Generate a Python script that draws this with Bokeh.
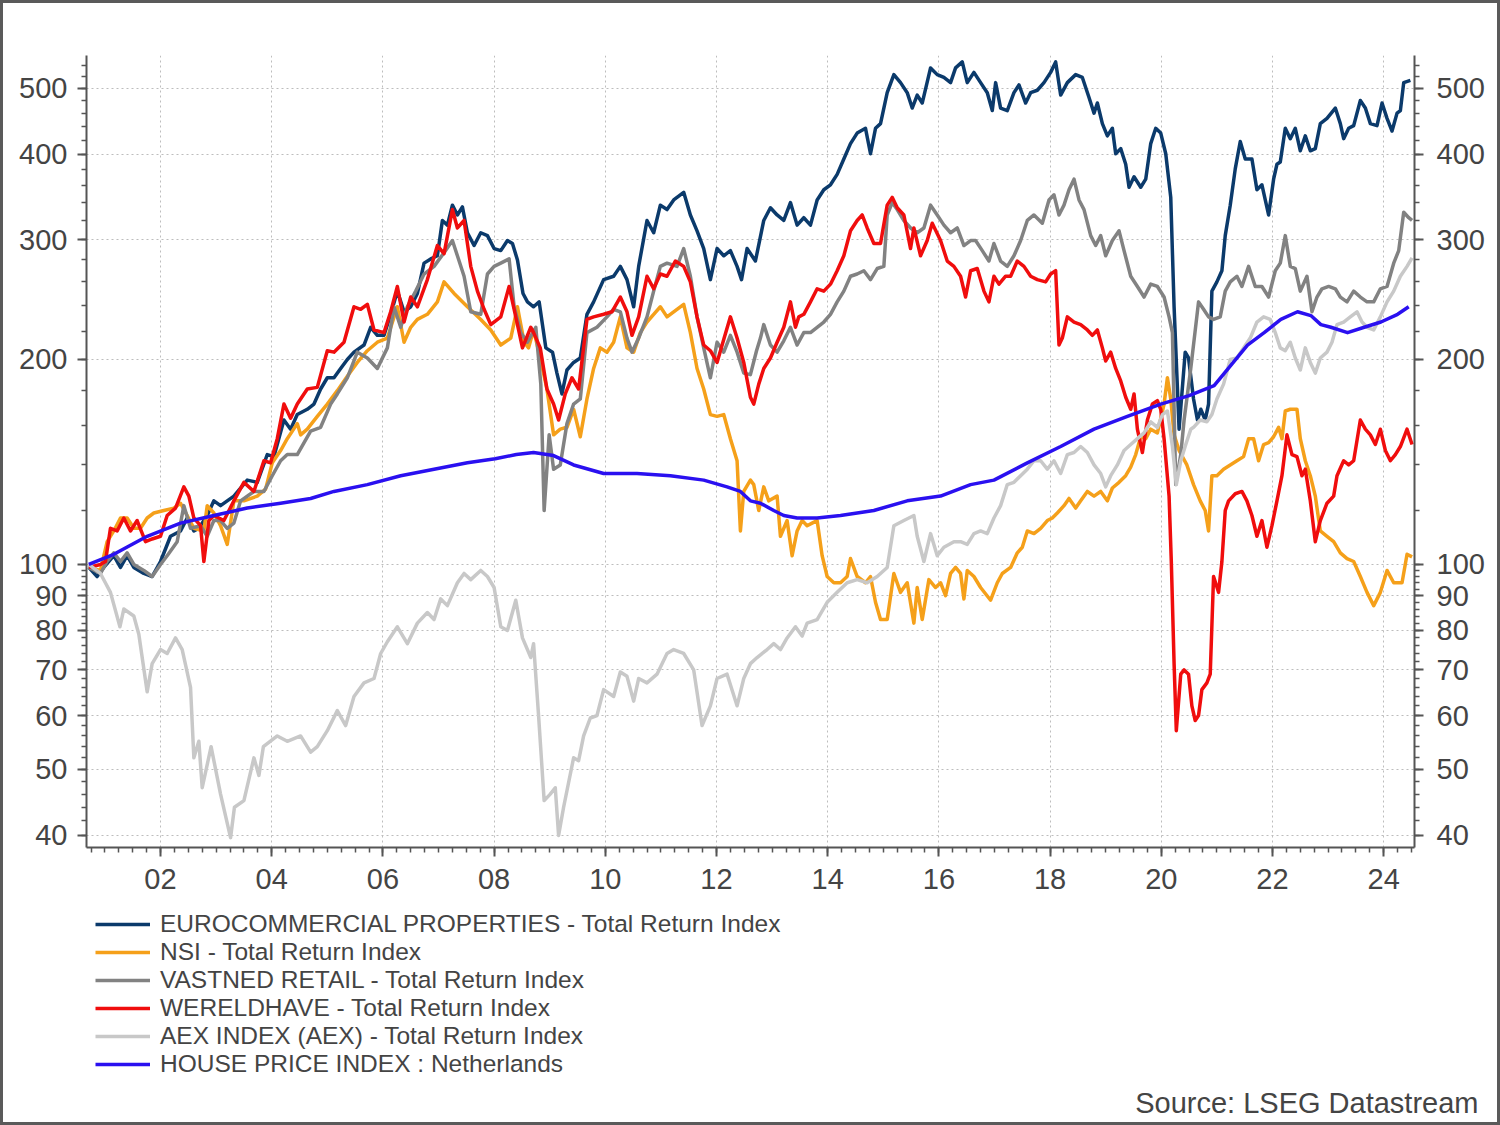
from bokeh.plotting import figure
from bokeh.layouts import column
from bokeh.models import Range1d, LogAxis, FixedTicker, Legend, LegendItem, Title, NumeralTickFormatter
from bokeh.embed import file_html
from bokeh.resources import INLINE

EURO = [(2000.71, 99), (2000.86, 96), (2000.98, 99), (2001.16, 103), (2001.28, 99), (2001.40, 103), (2001.52, 99), (2001.70, 97), (2001.85, 96), (2002.00, 101), (2002.18, 110), (2002.36, 112), (2002.48, 117), (2002.60, 112), (2002.69, 113), (2002.84, 118), (2002.96, 124), (2003.08, 122), (2003.20, 124), (2003.32, 126), (2003.56, 133), (2003.74, 132), (2003.92, 145), (2004.04, 144), (2004.22, 163), (2004.34, 158), (2004.46, 166), (2004.64, 169), (2004.76, 172), (2004.88, 181), (2005.00, 188), (2005.12, 188), (2005.24, 194), (2005.36, 200), (2005.48, 205), (2005.66, 210), (2005.78, 223), (2005.90, 217), (2006.02, 217), (2006.14, 233), (2006.26, 252), (2006.38, 235), (2006.50, 239), (2006.62, 250), (2006.74, 277), (2006.86, 281), (2006.98, 284), (2007.07, 320), (2007.16, 315), (2007.25, 337), (2007.34, 326), (2007.43, 335), (2007.52, 307), (2007.64, 294), (2007.76, 307), (2007.88, 304), (2008.00, 291), (2008.12, 289), (2008.24, 299), (2008.33, 296), (2008.42, 280), (2008.52, 250), (2008.60, 243), (2008.71, 239), (2008.81, 243), (2008.93, 208), (2009.05, 205), (2009.13, 191), (2009.22, 178), (2009.31, 193), (2009.43, 198), (2009.55, 201), (2009.67, 233), (2009.79, 243), (2009.97, 262), (2010.15, 265), (2010.27, 274), (2010.39, 262), (2010.51, 239), (2010.60, 274), (2010.75, 320), (2010.87, 307), (2010.99, 337), (2011.11, 332), (2011.23, 343), (2011.41, 352), (2011.53, 326), (2011.65, 309), (2011.77, 291), (2011.89, 262), (2012.01, 291), (2012.13, 284), (2012.25, 289), (2012.37, 274), (2012.45, 262), (2012.55, 291), (2012.70, 279), (2012.85, 320), (2012.97, 334), (2013.09, 326), (2013.21, 320), (2013.33, 340), (2013.45, 315), (2013.57, 323), (2013.69, 315), (2013.81, 343), (2013.93, 355), (2014.05, 361), (2014.17, 374), (2014.29, 394), (2014.41, 415), (2014.53, 430), (2014.68, 437), (2014.77, 401), (2014.86, 437), (2014.95, 444), (2015.07, 493), (2015.19, 524), (2015.31, 510), (2015.43, 493), (2015.52, 468), (2015.61, 489), (2015.70, 476), (2015.85, 536), (2015.97, 524), (2016.09, 519), (2016.21, 510), (2016.30, 536), (2016.42, 547), (2016.51, 510), (2016.63, 528), (2016.75, 510), (2016.87, 493), (2016.96, 464), (2017.02, 510), (2017.11, 468), (2017.23, 464), (2017.35, 493), (2017.44, 506), (2017.56, 476), (2017.65, 493), (2017.77, 497), (2017.89, 510), (2018.01, 528), (2018.10, 547), (2018.19, 489), (2018.31, 510), (2018.46, 524), (2018.58, 519), (2018.70, 485), (2018.79, 460), (2018.85, 476), (2018.94, 444), (2019.03, 426), (2019.12, 437), (2019.18, 401), (2019.27, 408), (2019.36, 387), (2019.42, 358), (2019.51, 371), (2019.63, 358), (2019.72, 368), (2019.81, 415), (2019.90, 437), (2019.99, 430), (2020.08, 401), (2020.17, 346), (2020.23, 239), (2020.32, 158), (2020.43, 205), (2020.49, 201), (2020.58, 175), (2020.65, 163), (2020.71, 169), (2020.79, 163), (2020.85, 172), (2020.91, 252), (2021.00, 260), (2021.09, 270), (2021.15, 304), (2021.24, 337), (2021.33, 381), (2021.42, 418), (2021.51, 394), (2021.63, 394), (2021.72, 355), (2021.81, 361), (2021.87, 343), (2021.93, 326), (2022.02, 368), (2022.08, 387), (2022.14, 390), (2022.23, 437), (2022.32, 422), (2022.41, 437), (2022.50, 405), (2022.59, 426), (2022.68, 405), (2022.77, 408), (2022.86, 444), (2022.98, 452), (2023.13, 468), (2023.22, 444), (2023.28, 422), (2023.37, 437), (2023.46, 441), (2023.58, 480), (2023.67, 468), (2023.76, 444), (2023.88, 441), (2023.97, 476), (2024.06, 452), (2024.15, 433), (2024.24, 460), (2024.30, 464), (2024.36, 510), (2024.48, 514)]

NSI = [(2000.71, 99), (2000.92, 98), (2001.04, 108), (2001.16, 112), (2001.28, 117), (2001.40, 117), (2001.52, 113), (2001.64, 113), (2001.76, 117), (2001.88, 119), (2002.06, 120), (2002.24, 121), (2002.36, 123), (2002.48, 118), (2002.60, 113), (2002.78, 112), (2002.84, 122), (2002.96, 119), (2003.08, 114), (2003.20, 107), (2003.32, 124), (2003.50, 124), (2003.74, 126), (2003.89, 129), (2004.01, 141), (2004.16, 147), (2004.28, 153), (2004.46, 161), (2004.52, 155), (2004.64, 158), (2004.82, 165), (2005.00, 172), (2005.18, 180), (2005.36, 189), (2005.54, 198), (2005.72, 206), (2005.90, 212), (2006.08, 215), (2006.26, 239), (2006.38, 212), (2006.50, 223), (2006.62, 229), (2006.80, 233), (2006.98, 243), (2007.10, 260), (2007.28, 250), (2007.52, 239), (2007.76, 229), (2007.94, 221), (2008.12, 210), (2008.30, 215), (2008.42, 239), (2008.54, 212), (2008.62, 208), (2008.71, 221), (2008.83, 201), (2008.95, 181), (2009.07, 155), (2009.19, 158), (2009.31, 159), (2009.43, 169), (2009.55, 154), (2009.67, 175), (2009.79, 194), (2009.91, 208), (2010.03, 205), (2010.15, 212), (2010.27, 231), (2010.39, 208), (2010.51, 205), (2010.63, 219), (2010.75, 227), (2010.87, 233), (2010.99, 239), (2011.11, 231), (2011.23, 235), (2011.41, 241), (2011.53, 219), (2011.65, 194), (2011.77, 181), (2011.89, 166), (2012.01, 165), (2012.13, 166), (2012.25, 153), (2012.37, 142), (2012.43, 112), (2012.49, 128), (2012.61, 133), (2012.67, 131), (2012.76, 120), (2012.85, 130), (2012.94, 124), (2013.09, 126), (2013.15, 110), (2013.27, 116), (2013.36, 103), (2013.45, 112), (2013.54, 116), (2013.63, 114), (2013.72, 115), (2013.81, 116), (2013.90, 103), (2013.99, 96), (2014.11, 94), (2014.23, 94), (2014.35, 96), (2014.41, 102), (2014.53, 96), (2014.68, 94), (2014.77, 96), (2014.86, 88), (2014.95, 83), (2015.07, 83), (2015.19, 97), (2015.31, 91), (2015.43, 94), (2015.55, 82), (2015.61, 92.5), (2015.70, 83), (2015.82, 95), (2015.94, 92.5), (2016.03, 94), (2016.12, 90), (2016.21, 97), (2016.30, 99), (2016.39, 97), (2016.45, 89), (2016.51, 98), (2016.63, 96), (2016.75, 92.5), (2016.93, 88.6), (2017.05, 94), (2017.14, 97), (2017.29, 99), (2017.41, 104), (2017.50, 106), (2017.59, 112), (2017.71, 111), (2017.83, 113), (2017.95, 116), (2018.04, 117), (2018.13, 119), (2018.25, 122), (2018.34, 125), (2018.46, 121), (2018.55, 124), (2018.67, 128), (2018.79, 126), (2018.91, 128), (2019.03, 124), (2019.12, 129.5), (2019.24, 132), (2019.36, 135), (2019.45, 139), (2019.54, 145), (2019.63, 154), (2019.72, 153), (2019.81, 158), (2019.93, 156), (2020.05, 172), (2020.11, 188), (2020.17, 175), (2020.23, 155), (2020.32, 147), (2020.46, 140), (2020.58, 131), (2020.70, 124), (2020.79, 120), (2020.85, 112), (2020.91, 135), (2021.00, 135), (2021.12, 138), (2021.24, 140), (2021.36, 142), (2021.48, 144), (2021.57, 153), (2021.66, 153), (2021.75, 142), (2021.84, 150), (2021.93, 151), (2022.02, 154), (2022.11, 159), (2022.17, 153), (2022.23, 168), (2022.32, 169), (2022.44, 169), (2022.50, 153), (2022.59, 142), (2022.68, 135), (2022.77, 126), (2022.86, 112), (2022.98, 110), (2023.10, 108), (2023.22, 104), (2023.34, 102), (2023.46, 101), (2023.58, 96), (2023.70, 91), (2023.82, 87), (2023.94, 91), (2024.06, 98), (2024.18, 94), (2024.33, 94), (2024.42, 103.5), (2024.51, 102.6)]

VASTNED = [(2000.71, 99), (2000.92, 97), (2001.04, 101), (2001.16, 104), (2001.28, 101), (2001.40, 104), (2001.52, 100), (2001.70, 98), (2001.85, 96), (2002.00, 100), (2002.12, 103), (2002.30, 108), (2002.42, 122), (2002.54, 113), (2002.72, 114), (2002.84, 110), (2002.96, 116), (2003.08, 116), (2003.20, 113), (2003.32, 115), (2003.44, 124), (2003.68, 128), (2003.86, 128), (2004.01, 135), (2004.16, 142), (2004.28, 145), (2004.46, 145), (2004.70, 157), (2004.88, 159), (2005.06, 172), (2005.18, 178), (2005.36, 188), (2005.54, 205), (2005.72, 201), (2005.90, 194), (2006.08, 208), (2006.20, 239), (2006.32, 223), (2006.44, 239), (2006.59, 252), (2006.74, 267), (2006.92, 274), (2007.10, 287), (2007.25, 299), (2007.34, 284), (2007.46, 265), (2007.58, 235), (2007.76, 233), (2007.88, 267), (2008.00, 274), (2008.12, 277), (2008.27, 281), (2008.36, 239), (2008.48, 219), (2008.60, 212), (2008.75, 223), (2008.84, 184), (2008.90, 120), (2008.99, 155), (2009.07, 138), (2009.19, 140), (2009.31, 161), (2009.43, 172), (2009.55, 175), (2009.67, 219), (2009.85, 223), (2010.03, 231), (2010.15, 237), (2010.27, 235), (2010.39, 215), (2010.48, 205), (2010.60, 215), (2010.75, 231), (2010.87, 252), (2010.99, 274), (2011.11, 277), (2011.29, 274), (2011.41, 291), (2011.53, 265), (2011.65, 231), (2011.77, 208), (2011.89, 188), (2012.01, 212), (2012.13, 205), (2012.25, 217), (2012.37, 205), (2012.49, 191), (2012.61, 190), (2012.72, 206), (2012.79, 215), (2012.85, 225), (2012.97, 210), (2013.09, 205), (2013.21, 213), (2013.33, 223), (2013.45, 210), (2013.57, 219), (2013.69, 219), (2013.81, 223), (2013.93, 227), (2014.05, 233), (2014.17, 243), (2014.29, 252), (2014.41, 265), (2014.53, 267), (2014.65, 270), (2014.77, 262), (2014.89, 272), (2015.01, 274), (2015.07, 326), (2015.16, 340), (2015.25, 332), (2015.37, 320), (2015.49, 312), (2015.61, 307), (2015.73, 312), (2015.85, 337), (2015.97, 326), (2016.09, 315), (2016.21, 307), (2016.33, 312), (2016.45, 294), (2016.57, 299), (2016.66, 299), (2016.78, 289), (2016.90, 279), (2016.99, 296), (2017.11, 279), (2017.23, 274), (2017.35, 284), (2017.47, 299), (2017.59, 320), (2017.71, 326), (2017.86, 317), (2017.98, 343), (2018.07, 349), (2018.16, 326), (2018.25, 337), (2018.34, 355), (2018.43, 368), (2018.52, 343), (2018.61, 332), (2018.73, 304), (2018.82, 294), (2018.91, 304), (2019.00, 284), (2019.12, 299), (2019.24, 309), (2019.33, 289), (2019.45, 265), (2019.57, 256), (2019.69, 247), (2019.81, 258), (2019.93, 256), (2020.05, 247), (2020.14, 231), (2020.20, 219), (2020.26, 131), (2020.35, 145), (2020.41, 163), (2020.53, 194), (2020.67, 243), (2020.76, 237), (2020.85, 231), (2020.94, 229), (2021.06, 231), (2021.15, 252), (2021.24, 260), (2021.36, 265), (2021.45, 256), (2021.57, 274), (2021.69, 256), (2021.81, 256), (2021.93, 247), (2022.05, 270), (2022.14, 277), (2022.23, 304), (2022.32, 274), (2022.41, 272), (2022.50, 252), (2022.62, 265), (2022.71, 235), (2022.80, 247), (2022.89, 254), (2023.01, 256), (2023.13, 254), (2023.22, 247), (2023.34, 243), (2023.46, 252), (2023.58, 247), (2023.70, 243), (2023.82, 243), (2023.94, 254), (2024.06, 256), (2024.18, 277), (2024.27, 289), (2024.36, 329), (2024.45, 323), (2024.51, 320)]

WERELDHAVE = [(2000.71, 99), (2000.92, 100), (2001.01, 101), (2001.10, 113), (2001.22, 112), (2001.34, 117), (2001.46, 112), (2001.58, 116), (2001.73, 108), (2001.85, 109), (2002.00, 110), (2002.12, 118), (2002.27, 121), (2002.42, 130), (2002.51, 126), (2002.60, 117), (2002.72, 114), (2002.78, 101), (2002.87, 116), (2002.96, 118), (2003.14, 116), (2003.32, 124), (2003.50, 132), (2003.68, 128), (2003.86, 142), (2003.98, 141), (2004.10, 153), (2004.22, 172), (2004.34, 164), (2004.46, 172), (2004.64, 181), (2004.82, 182), (2005.00, 206), (2005.12, 205), (2005.30, 212), (2005.48, 239), (2005.60, 237), (2005.72, 241), (2005.84, 221), (2006.02, 219), (2006.14, 235), (2006.26, 256), (2006.38, 227), (2006.50, 247), (2006.62, 239), (2006.80, 262), (2006.98, 294), (2007.10, 286), (2007.25, 332), (2007.34, 312), (2007.46, 320), (2007.58, 274), (2007.70, 252), (2007.82, 237), (2007.94, 225), (2008.12, 231), (2008.27, 256), (2008.39, 231), (2008.51, 208), (2008.66, 223), (2008.71, 219), (2008.83, 208), (2008.95, 181), (2009.07, 172), (2009.16, 163), (2009.28, 178), (2009.40, 188), (2009.52, 181), (2009.67, 229), (2009.79, 231), (2009.97, 233), (2010.12, 235), (2010.27, 247), (2010.39, 235), (2010.48, 217), (2010.60, 231), (2010.75, 265), (2010.87, 254), (2010.99, 267), (2011.11, 265), (2011.26, 279), (2011.41, 274), (2011.53, 260), (2011.65, 231), (2011.77, 210), (2011.89, 206), (2012.01, 198), (2012.13, 214), (2012.25, 231), (2012.37, 215), (2012.49, 198), (2012.61, 176), (2012.67, 172), (2012.76, 184), (2012.85, 194), (2012.97, 201), (2013.09, 212), (2013.21, 223), (2013.33, 243), (2013.42, 223), (2013.48, 231), (2013.57, 233), (2013.69, 243), (2013.81, 254), (2013.93, 252), (2014.05, 258), (2014.17, 270), (2014.29, 284), (2014.41, 309), (2014.53, 320), (2014.62, 326), (2014.71, 312), (2014.83, 296), (2014.95, 296), (2015.07, 337), (2015.16, 346), (2015.25, 334), (2015.37, 326), (2015.49, 291), (2015.55, 312), (2015.67, 284), (2015.79, 299), (2015.88, 317), (2016.03, 299), (2016.15, 279), (2016.27, 274), (2016.39, 265), (2016.48, 247), (2016.57, 270), (2016.69, 272), (2016.81, 252), (2016.90, 243), (2016.99, 265), (2017.08, 258), (2017.20, 265), (2017.29, 265), (2017.41, 279), (2017.53, 274), (2017.65, 265), (2017.77, 262), (2017.92, 260), (2018.01, 267), (2018.10, 270), (2018.16, 210), (2018.22, 215), (2018.31, 231), (2018.43, 227), (2018.55, 225), (2018.67, 221), (2018.76, 217), (2018.85, 221), (2018.94, 208), (2019.00, 199), (2019.09, 205), (2019.18, 194), (2019.27, 186), (2019.36, 176), (2019.45, 169), (2019.51, 178), (2019.57, 158), (2019.66, 146), (2019.75, 163), (2019.84, 172), (2019.93, 174), (2019.99, 169), (2020.05, 153), (2020.14, 126), (2020.18, 101), (2020.23, 71.5), (2020.27, 57), (2020.35, 69), (2020.41, 70), (2020.49, 69), (2020.55, 62), (2020.61, 59), (2020.67, 60), (2020.73, 65.5), (2020.82, 67), (2020.88, 69), (2020.94, 96), (2021.03, 91), (2021.09, 101), (2021.15, 120), (2021.21, 124), (2021.33, 127), (2021.45, 128), (2021.54, 124), (2021.63, 118), (2021.72, 110), (2021.81, 116), (2021.90, 106), (2021.99, 114), (2022.08, 124), (2022.17, 135), (2022.26, 155), (2022.35, 145), (2022.44, 144), (2022.53, 135), (2022.59, 138), (2022.68, 124), (2022.77, 108), (2022.86, 116), (2022.98, 123), (2023.10, 126), (2023.16, 135), (2023.28, 142), (2023.37, 140), (2023.46, 142), (2023.58, 163), (2023.67, 158), (2023.76, 155), (2023.85, 150), (2023.94, 158), (2024.03, 147), (2024.12, 142), (2024.21, 145), (2024.30, 149), (2024.42, 158), (2024.51, 150)]

AEX = [(2000.71, 100), (2000.92, 97), (2001.10, 91), (2001.27, 81), (2001.34, 86), (2001.52, 84), (2001.61, 79), (2001.76, 65), (2001.85, 71.5), (2002.00, 75), (2002.12, 74), (2002.27, 78), (2002.39, 75), (2002.54, 66), (2002.60, 52), (2002.69, 55), (2002.75, 47), (2002.91, 54), (2003.08, 46), (2003.26, 39.7), (2003.33, 44), (2003.50, 45), (2003.68, 52), (2003.77, 49), (2003.85, 54), (2004.10, 56), (2004.28, 55), (2004.52, 56), (2004.70, 53), (2004.82, 54), (2005.00, 57), (2005.18, 61), (2005.33, 58), (2005.48, 64), (2005.66, 67), (2005.84, 68), (2005.96, 74), (2006.08, 77), (2006.26, 81), (2006.44, 76.5), (2006.62, 82), (2006.80, 85), (2006.92, 83), (2007.04, 89), (2007.16, 87), (2007.34, 94), (2007.46, 97), (2007.58, 95), (2007.76, 98), (2007.88, 96), (2008.00, 92.5), (2008.12, 81), (2008.24, 80), (2008.39, 88.6), (2008.51, 78), (2008.66, 73), (2008.71, 76.5), (2008.80, 60), (2008.90, 45), (2009.01, 46), (2009.10, 47), (2009.16, 40), (2009.25, 44), (2009.43, 52), (2009.52, 51.5), (2009.61, 56), (2009.73, 59.5), (2009.85, 60), (2009.97, 65.5), (2010.15, 64), (2010.27, 69.5), (2010.39, 68.5), (2010.51, 63), (2010.60, 68), (2010.75, 67), (2010.93, 69), (2011.11, 74), (2011.23, 75), (2011.41, 74), (2011.59, 70), (2011.74, 58), (2011.89, 62), (2012.01, 68), (2012.19, 69), (2012.37, 62), (2012.49, 68), (2012.61, 71.5), (2012.73, 73), (2012.91, 75), (2013.03, 76.5), (2013.15, 75), (2013.27, 78), (2013.42, 81), (2013.54, 78.5), (2013.63, 82), (2013.81, 83), (2013.99, 88), (2014.17, 91), (2014.35, 94), (2014.53, 95), (2014.71, 94), (2014.89, 96), (2015.07, 99), (2015.19, 114), (2015.37, 116), (2015.55, 118), (2015.61, 110), (2015.73, 101), (2015.85, 111), (2015.97, 103), (2016.09, 106), (2016.27, 108), (2016.39, 108), (2016.51, 107), (2016.63, 111), (2016.75, 112), (2016.87, 111), (2016.99, 117), (2017.11, 122), (2017.23, 131), (2017.35, 132), (2017.47, 135), (2017.59, 138), (2017.71, 142), (2017.83, 142), (2017.95, 138), (2018.07, 142), (2018.19, 136), (2018.31, 145), (2018.43, 146), (2018.55, 149), (2018.67, 146), (2018.79, 140), (2018.91, 136), (2019.00, 130), (2019.09, 135), (2019.21, 140), (2019.33, 147), (2019.45, 150), (2019.57, 153), (2019.69, 156), (2019.81, 162), (2019.93, 159), (2020.02, 166), (2020.11, 168), (2020.20, 149), (2020.27, 131), (2020.35, 142), (2020.44, 150), (2020.53, 158), (2020.58, 159), (2020.70, 163), (2020.82, 162), (2020.91, 166), (2021.00, 175), (2021.12, 184), (2021.24, 200), (2021.36, 201), (2021.48, 208), (2021.60, 215), (2021.72, 227), (2021.84, 231), (2021.96, 229), (2022.05, 219), (2022.14, 208), (2022.23, 206), (2022.32, 212), (2022.41, 201), (2022.50, 193), (2022.59, 208), (2022.68, 198), (2022.77, 191), (2022.86, 201), (2022.98, 205), (2023.07, 212), (2023.16, 225), (2023.28, 227), (2023.40, 231), (2023.52, 235), (2023.61, 227), (2023.70, 223), (2023.82, 221), (2023.94, 231), (2024.06, 243), (2024.18, 252), (2024.30, 265), (2024.42, 274), (2024.51, 282)]

HOUSE = [(2000.71, 100), (2001.16, 103.5), (2001.76, 110), (2002.36, 115), (2002.96, 118), (2003.56, 121), (2004.16, 123), (2004.70, 125), (2005.12, 128), (2005.72, 131), (2006.32, 135), (2006.92, 138), (2007.52, 141), (2008.02, 143), (2008.40, 145), (2008.71, 146), (2009.07, 144.5), (2009.43, 140), (2009.97, 136), (2010.57, 136), (2011.17, 135), (2011.77, 133), (2012.19, 130), (2012.43, 128), (2012.61, 124), (2012.79, 123), (2013.03, 120), (2013.21, 118), (2013.45, 117), (2013.81, 117), (2014.23, 118), (2014.83, 120), (2015.43, 124), (2016.03, 126), (2016.57, 131), (2016.99, 133), (2017.59, 141), (2018.19, 149), (2018.79, 158), (2019.39, 165), (2019.99, 172), (2020.50, 177), (2020.95, 183), (2021.25, 196), (2021.55, 210), (2021.85, 219), (2022.15, 229), (2022.45, 235), (2022.69, 232), (2022.87, 225), (2023.05, 223), (2023.35, 219), (2023.65, 223), (2023.95, 227), (2024.25, 233), (2024.45, 239)]

SERIES_NAMES = ["EUROCOMMERCIAL PROPERTIES - Total Return Index", "NSI - Total Return Index",
                "VASTNED RETAIL - Total Return Index", "WERELDHAVE - Total Return Index",
                "AEX INDEX (AEX) - Total Return Index", "HOUSE PRICE INDEX : Netherlands"]
SERIES_DATA = [EURO, NSI, VASTNED, WERELDHAVE, AEX, HOUSE]
SERIES_COLORS = ["#0b3a6b", "#f5a01a", "#828282", "#f00d0d", "#c8c8c8", "#2a10f0"]

Y_MAJOR = [40, 50, 60, 70, 80, 90, 100, 200, 300, 400, 500]
Y_MINOR = list(range(40, 100, 2)) + list(range(100, 200, 20)) + list(range(200, 561, 20))
X_MAJOR = list(range(2002, 2025, 2))
X_LABELS = ["02", "04", "06", "08", "10", "12", "14", "16", "18", "20", "22", "24"]
X_MINOR = [2000.75 + 0.25 * i for i in range(96)]
SOURCE = "Source: LSEG Datastream"

FONT = "Liberation Sans"
TXT = "#444444"
AX = "#555555"
LW = 3.5

p = figure(frame_width=1328, frame_height=792, y_axis_type="log",
           x_range=Range1d(2000.669, 2024.554), y_range=Range1d(38.4, 559),
           output_backend="svg", toolbar_location=None,
           min_border_left=83, min_border_right=83, min_border_top=52, min_border_bottom=54)
p.outline_line_color = None
p.background_fill_color = "white"
p.border_fill_color = "white"

for name, data, col in zip(SERIES_NAMES, SERIES_DATA, SERIES_COLORS):
    xs = [d[0] for d in data]
    ys = [d[1] for d in data]
    p.line(xs, ys, line_color=col, line_width=LW, line_join="round")

def style_axis(ax):
    ax.axis_line_color = AX
    ax.axis_line_width = 2
    ax.major_tick_line_color = AX
    ax.major_tick_line_width = 2
    ax.major_tick_out = 9
    ax.major_tick_in = 0
    ax.minor_tick_line_color = AX
    ax.minor_tick_line_width = 1.5
    ax.minor_tick_out = 5
    ax.minor_tick_in = 0
    ax.major_label_text_font = FONT
    ax.major_label_text_font_size = "29px"
    ax.major_label_text_color = TXT

p.yaxis.ticker = FixedTicker(ticks=Y_MAJOR, minor_ticks=Y_MINOR)
p.yaxis.formatter = NumeralTickFormatter(format="0")
for ax in p.yaxis:
    style_axis(ax)
    ax.major_label_standoff = 10

rax = LogAxis(ticker=FixedTicker(ticks=Y_MAJOR, minor_ticks=Y_MINOR),
              formatter=NumeralTickFormatter(format="0"))
style_axis(rax)
rax.major_label_standoff = 13
p.add_layout(rax, "right")

p.xaxis.ticker = FixedTicker(ticks=X_MAJOR, minor_ticks=X_MINOR)
p.xaxis.major_label_overrides = {t: l for t, l in zip(X_MAJOR, X_LABELS)}
for ax in p.xaxis:
    style_axis(ax)
    ax.major_label_standoff = 12

for g in (p.xgrid, p.ygrid):
    g.grid_line_color = "#bdbdbd"
    g.grid_line_dash = "2 3"
    g.grid_line_width = 1

# lower panel: legend and source note
H2 = 221
p2 = figure(width=1494, height=H2, x_range=Range1d(0, 10), y_range=Range1d(0, 10),
            output_backend="svg", toolbar_location=None, min_border=0,
            x_axis_location=None, y_axis_location=None)
p2.grid.visible = False
p2.outline_line_color = None
p2.background_fill_color = "white"
p2.border_fill_color = "white"

items = []
for name, col in zip(SERIES_NAMES, SERIES_COLORS):
    r = p2.line([-50, -40], [-50, -50], line_color=col, line_width=LW)
    items.append(LegendItem(label=name, renderers=[r]))

legend = Legend(items=items, location="top_left")
legend.label_text_font = FONT
legend.label_text_font_size = "24.5px"
legend.label_text_color = TXT
legend.glyph_width = 55
legend.glyph_height = 28
legend.label_height = 28
legend.label_standoff = 10
legend.spacing = 0
legend.padding = 1
legend.margin = 9
legend.border_line_color = None
legend.background_fill_alpha = 0
p2.add_layout(legend)

src = Title(text=SOURCE, align="right", offset=-64, vertical_align="middle",
            text_baseline="middle", standoff=6, text_font=FONT,
            text_font_size="29px", text_color=TXT, text_font_style="normal")
p2.add_layout(src, "below")

layout = column(p, p2, spacing=0)
layout.styles = {"border": "3px solid #5a5a5a"}

open("out.html", "w").write(file_html(layout, INLINE))
